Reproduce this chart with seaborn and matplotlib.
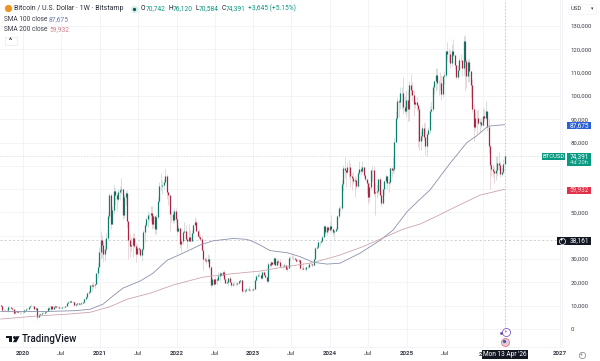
import matplotlib
matplotlib.use("Agg")
import matplotlib.pyplot as plt
import matplotlib.dates as mdates
from matplotlib.lines import Line2D
from matplotlib.patches import Polygon, Rectangle
import seaborn as sns
import pandas as pd

# weekly candles in thousands of USD, one block per chart year
first_open = 10.3

close_2019 = [10.0, 8.05, 7.9, 8.3, 8.2, 9.5, 9.2, 9.0, 8.5, 7.0, 7.4, 7.5, 7.1, 7.15, 7.3]
high_2019 = [10.4, 10.3, 8.4, 8.5, 8.4, 10.4, 9.9, 9.5, 9.3, 8.6, 7.9, 7.7, 7.5, 7.5, 7.6]
low_2019 = [9.6, 7.8, 7.7, 7.8, 7.8, 7.3, 8.9, 8.7, 8.3, 6.5, 6.9, 7.2, 7.0, 6.4, 7.0]

close_2020 = [7.4, 8.2, 8.7, 8.6, 9.3, 9.9, 9.9, 9.7, 8.5, 8.9, 5.2, 5.8, 6.2,
              6.8, 6.9, 7.1, 7.5, 8.9, 8.7, 9.7, 8.7, 9.4, 9.7, 9.3, 9.3, 9.0,
              9.1, 9.3, 9.2, 9.9, 11.1, 11.6, 11.9, 11.6, 11.7, 10.2, 10.6, 11.1, 10.7,
              10.7, 11.3, 11.4, 13.0, 13.8, 15.5, 16.0, 18.7, 18.2, 19.0, 19.2, 23.8, 26.4]
high_2020 = [7.6, 8.5, 9.0, 8.8, 9.6, 10.2, 10.5, 10.2, 9.7, 9.2, 9.2, 7.0, 6.9,
             7.3, 7.5, 7.3, 7.8, 9.5, 10.0, 9.9, 9.9, 9.7, 10.4, 9.9, 9.6, 9.7,
             9.3, 9.5, 9.4, 9.9, 11.4, 11.9, 12.1, 12.4, 11.8, 12.1, 10.7, 11.2, 11.2,
             10.9, 11.5, 11.7, 13.2, 14.1, 15.9, 16.5, 18.9, 19.5, 19.9, 19.4, 23.8, 28.4]
low_2020 = [6.9, 7.3, 8.1, 8.3, 8.3, 9.1, 9.7, 9.3, 8.5, 8.0, 3.9, 4.9, 5.9,
            6.2, 6.6, 6.5, 6.8, 7.5, 8.0, 8.2, 8.8, 8.7, 9.4, 9.2, 8.9, 8.9,
            8.9, 9.0, 9.1, 9.0, 9.8, 10.9, 11.2, 11.4, 11.1, 9.9, 9.9, 10.2, 10.1,
            10.4, 10.5, 11.1, 11.3, 12.8, 13.2, 14.8, 15.8, 16.3, 17.6, 17.6, 19.2, 22.0]

close_2021 = [33.0, 38.2, 36.0, 32.1, 34.3, 39.2, 48.6, 57.4, 45.2, 50.9, 59.0, 57.4, 55.8,
              58.8, 59.8, 60.0, 49.0, 56.6, 58.2, 46.4, 38.0, 35.7, 35.8, 39.0, 35.5, 32.2,
              34.7, 34.2, 31.5, 34.2, 41.5, 44.6, 47.0, 48.9, 48.8, 49.9, 45.0, 48.3, 42.7,
              48.2, 54.9, 61.5, 61.3, 61.8, 63.2, 65.5, 58.6, 57.3, 49.3, 49.3, 46.7, 50.8]
high_2021 = [35.0, 42.0, 40.1, 37.9, 38.6, 41.0, 49.7, 58.4, 58.4, 52.6, 61.7, 60.5, 58.4,
             60.1, 61.3, 64.8, 57.5, 57.9, 59.4, 59.5, 45.8, 40.9, 39.4, 41.3, 41.3, 36.7,
             36.6, 35.1, 34.6, 34.8, 42.6, 45.3, 48.1, 50.5, 49.9, 52.9, 52.9, 48.8, 45.0,
             49.2, 56.5, 62.9, 67.0, 63.7, 64.3, 69.0, 66.3, 59.4, 57.0, 50.8, 50.6, 51.9]
low_2021 = [27.7, 29.9, 30.4, 28.8, 29.2, 33.4, 38.0, 47.0, 43.0, 44.9, 49.3, 53.3, 50.4,
            55.0, 55.4, 58.0, 47.0, 47.4, 53.0, 43.8, 30.0, 31.0, 33.4, 31.0, 34.7, 28.8,
            32.7, 32.1, 31.0, 29.3, 34.0, 37.5, 43.7, 43.9, 46.4, 46.5, 42.8, 43.4, 40.7,
            40.8, 47.1, 53.9, 59.7, 58.0, 60.0, 62.8, 55.6, 53.3, 42.0, 45.7, 45.5, 45.6]

close_2022 = [47.3, 41.9, 43.1, 36.3, 37.9, 41.4, 42.2, 38.4, 37.7, 39.4, 37.8, 41.3, 44.5,
              45.8, 42.2, 39.7, 39.4, 38.5, 34.0, 30.1, 29.4, 29.0, 29.9, 26.6, 18.9, 21.5,
              19.3, 21.6, 20.8, 22.5, 23.8, 23.2, 24.4, 21.5, 19.6, 20.0, 21.8, 20.1, 18.9,
              19.3, 19.4, 19.3, 19.6, 20.6, 20.9, 16.3, 16.3, 16.5, 17.1, 17.1, 16.8, 16.8]
high_2022 = [51.9, 47.5, 44.4, 43.5, 38.9, 42.0, 45.8, 44.7, 40.0, 45.2, 42.5, 42.4, 45.0,
             48.2, 47.0, 42.4, 42.9, 40.8, 39.8, 34.2, 30.7, 30.7, 32.2, 31.7, 26.9, 21.8,
             21.5, 22.4, 21.9, 24.2, 24.6, 23.6, 25.0, 25.2, 21.8, 20.5, 21.8, 22.7, 19.7,
             20.2, 20.4, 19.9, 19.7, 21.0, 21.0, 21.0, 17.0, 16.8, 17.4, 17.4, 18.4, 17.0]
low_2022 = [45.7, 40.5, 41.7, 34.8, 33.0, 36.6, 41.0, 38.0, 34.4, 37.6, 37.6, 37.6, 40.6,
            44.6, 42.2, 39.6, 38.5, 37.7, 33.7, 25.4, 28.7, 28.0, 28.3, 25.3, 17.6, 19.6,
            18.6, 19.3, 18.9, 20.8, 20.7, 22.7, 22.8, 20.8, 19.5, 19.5, 18.5, 19.9, 18.1,
            18.5, 18.9, 18.2, 18.7, 19.2, 19.6, 15.5, 15.9, 15.5, 16.0, 16.7, 16.3, 16.4]

close_2023 = [16.6, 16.9, 20.9, 22.7, 23.1, 23.3, 21.8, 24.3, 23.2, 22.3, 20.5, 27.9, 27.5,
              28.5, 27.9, 30.3, 27.6, 29.2, 28.9, 26.8, 27.1, 26.8, 27.2, 25.8, 26.3, 30.5,
              30.5, 30.3, 30.3, 29.8, 29.2, 29.0, 29.4, 26.1, 26.0, 25.9, 25.8, 26.5, 26.6,
              28.0, 27.9, 27.2, 30.0, 34.5, 35.0, 37.1, 37.4, 37.8, 39.5, 44.0, 41.4, 43.7]
high_2023 = [17.0, 17.4, 21.4, 23.3, 23.9, 24.2, 23.4, 25.2, 25.0, 23.9, 22.6, 28.8, 28.9,
             29.2, 28.8, 30.9, 30.4, 30.0, 29.8, 29.8, 27.5, 27.5, 28.4, 27.3, 26.8, 31.4,
             31.4, 31.5, 31.8, 30.4, 29.7, 29.4, 30.2, 29.7, 26.8, 28.1, 26.4, 26.9, 27.4,
             28.6, 28.5, 28.0, 30.4, 35.2, 35.9, 37.9, 37.9, 38.4, 40.2, 44.7, 44.4, 44.3]
low_2023 = [16.3, 16.5, 16.9, 20.4, 22.3, 22.7, 21.4, 21.5, 23.1, 21.9, 19.6, 20.2, 26.6,
            26.6, 27.2, 27.8, 27.1, 26.9, 27.7, 26.1, 26.5, 25.9, 26.5, 25.4, 24.8, 26.2,
            29.5, 29.9, 29.7, 29.5, 28.9, 28.6, 28.7, 25.2, 25.4, 25.3, 25.4, 24.9, 26.0,
            26.0, 27.2, 26.5, 26.9, 29.9, 34.1, 34.5, 35.6, 36.7, 37.5, 39.9, 40.2, 40.5]

close_2024 = [42.3, 44.0, 42.8, 41.6, 42.1, 43.0, 48.3, 52.1, 51.7, 62.4, 68.9, 68.4, 67.2,
              69.6, 69.4, 65.7, 64.9, 63.4, 64.0, 61.5, 66.9, 68.5, 67.7, 69.6, 66.2, 64.3,
              62.7, 56.7, 60.8, 68.2, 68.3, 58.2, 58.7, 59.0, 64.2, 57.3, 54.2, 60.0, 63.4,
              65.6, 62.8, 62.9, 69.0, 68.0, 68.8, 80.4, 90.5, 97.9, 97.2, 101.2, 101.4, 95.2]
high_2024 = [43.8, 45.9, 48.9, 43.4, 42.9, 43.8, 48.9, 52.9, 52.9, 63.9, 70.2, 73.8, 68.2,
             71.7, 72.7, 71.2, 66.9, 67.2, 65.5, 65.0, 67.6, 71.9, 70.0, 71.9, 69.6, 66.6,
             63.3, 63.0, 62.8, 68.3, 69.9, 70.0, 62.7, 61.8, 64.9, 65.0, 59.0, 60.6, 64.1,
             66.5, 65.6, 64.4, 69.4, 69.5, 73.6, 81.8, 93.4, 99.7, 98.5, 103.9, 104.0, 108.3]
low_2024 = [41.5, 42.1, 41.5, 40.3, 38.6, 41.9, 42.5, 47.7, 50.6, 50.9, 59.2, 64.7, 60.8,
            66.3, 64.5, 60.7, 59.7, 62.4, 56.6, 60.2, 60.8, 66.3, 66.6, 67.1, 65.2, 63.4,
            58.5, 53.5, 54.3, 59.8, 63.4, 57.2, 49.0, 56.1, 57.8, 57.2, 52.6, 53.6, 57.6,
            62.7, 59.9, 58.9, 62.1, 65.4, 66.7, 67.5, 80.2, 89.5, 90.8, 94.5, 94.2, 92.2]

close_2025 = [93.7, 98.4, 94.5, 104.5, 102.6, 100.6, 96.5, 97.5, 96.3, 94.2, 80.7, 82.6, 86.1,
              82.4, 78.4, 83.7, 85.2, 93.7, 94.3, 104.0, 106.4, 109.0, 105.6, 105.7, 105.5, 100.9,
              108.4, 109.2, 119.1, 117.9, 118.0, 114.2, 119.3, 117.4, 113.5, 108.3, 111.1, 115.3, 115.3,
              112.2, 123.5, 115.1, 108.6, 114.5, 110.6, 104.7, 94.2, 86.8, 90.4, 90.4, 88.2, 88.6]
high_2025 = [99.9, 102.6, 102.7, 106.4, 109.6, 106.0, 102.5, 98.8, 99.5, 96.5, 95.0, 84.9, 87.4,
             88.8, 88.5, 84.2, 86.5, 95.7, 97.4, 104.5, 106.7, 111.9, 111.9, 106.8, 110.3, 108.9,
             108.7, 110.6, 119.5, 123.2, 120.2, 119.8, 122.3, 124.5, 117.4, 113.4, 113.3, 116.7, 117.9,
             114.8, 125.7, 126.2, 115.9, 116.0, 116.4, 107.3, 107.2, 96.6, 93.0, 94.0, 94.4, 90.4]
low_2025 = [92.5, 91.2, 89.3, 89.3, 100.2, 97.8, 91.2, 94.9, 93.4, 78.2, 76.6, 76.6, 81.0,
            81.2, 74.6, 74.4, 83.2, 84.0, 92.9, 93.4, 100.7, 102.0, 103.1, 100.4, 102.7, 98.2,
            99.7, 105.1, 107.5, 115.6, 114.7, 112.0, 112.7, 116.8, 111.7, 107.3, 107.3, 110.8, 114.8,
            108.7, 109.0, 102.0, 103.5, 106.1, 106.2, 99.0, 93.0, 80.6, 85.3, 83.8, 87.7, 84.4]

close_2026 = [87.7, 91.4, 90.5, 93.6, 86.5, 78.7, 70.3, 68.8, 67.7, 67.0, 68.2, 71.2, 70.5, 66.5, 67.5, 70.7, 74.391]
high_2026 = [90.5, 94.8, 94.4, 97.9, 91.0, 90.4, 79.4, 72.0, 70.9, 70.0, 74.0, 74.4, 76.0, 71.9, 69.5, 73.0, 76.12]
low_2026 = [86.5, 87.0, 89.3, 89.9, 85.0, 75.7, 60.0, 65.8, 65.0, 62.5, 63.9, 65.5, 68.0, 65.0, 65.5, 66.8, 70.584]

# moving averages
sma100_dates = ["2019-09-16", "2020-01-01", "2020-05-09", "2020-09-05", "2020-11-15", "2021-01-16", "2021-03-05",
                "2021-04-21", "2021-07-11", "2021-09-11", "2021-11-18", "2022-02-01", "2022-04-23", "2022-06-24",
                "2022-09-27", "2022-11-23", "2022-12-17", "2023-02-03", "2023-03-22", "2023-06-11", "2023-08-12",
                "2023-10-13", "2023-12-19", "2024-02-19", "2024-05-24", "2024-08-27", "2024-10-28", "2025-01-03",
                "2025-03-06", "2025-04-22", "2025-07-26", "2025-10-15", "2025-12-02", "2026-01-23", "2026-04-13"]
sma100_values = [7.4, 7.4, 7.5, 7.8, 8.4, 10.6, 14.2, 17.5, 20.5, 23.9, 29.5, 32.5, 36.0, 37.8, 38.8, 38.5, 38.0,
                 36.0, 33.6, 32.7, 31.0, 28.6, 27.8, 28.2, 32.5, 38.0, 42.4, 50.3, 55.7, 59.6, 71.0, 80.0, 83.0,
                 87.0, 87.675]
sma200_dates = ["2019-09-16", "2020-01-01", "2020-02-17", "2020-07-29", "2020-11-15", "2021-02-18", "2021-05-10",
                "2021-08-28", "2021-12-15", "2022-05-07", "2022-09-27", "2023-02-03", "2023-05-23", "2023-10-13",
                "2024-02-19", "2024-06-07", "2024-09-10", "2024-12-15", "2025-03-06", "2025-05-16", "2025-08-09",
                "2025-12-16", "2026-04-13"]
sma200_values = [4.2, 5.0, 5.4, 6.3, 7.1, 9.5, 12.7, 15.3, 18.8, 22.2, 23.7, 24.8, 26.5, 28.4, 31.7, 35.3, 39.0,
                 42.8, 45.0, 48.0, 51.8, 57.4, 59.932]

price_ticks = list(range(0, 140000, 10000))
hidden_prices = [40000, 60000, 70000]  # sit under the price tags
time_ticks = ["2020-01-01", "2020-07-01", "2021-01-01", "2021-07-01", "2022-01-01", "2022-07-01", "2023-01-01",
              "2023-07-01", "2024-01-01", "2024-07-01", "2025-01-01", "2025-07-01", "2026-01-01", "2026-07-01",
              "2027-01-01"]
time_labels = ["2020", "Jul", "2021", "Jul", "2022", "Jul", "2023", "Jul", "2024", "Jul", "2025", "Jul", "",
               "", "2027"]

blocks = [("2019-09-16", close_2019, high_2019, low_2019),
          ("2019-12-30", close_2020, high_2020, low_2020),
          ("2020-12-28", close_2021, high_2021, low_2021),
          ("2021-12-27", close_2022, high_2022, low_2022),
          ("2022-12-26", close_2023, high_2023, low_2023),
          ("2023-12-25", close_2024, high_2024, low_2024),
          ("2024-12-23", close_2025, high_2025, low_2025),
          ("2025-12-22", close_2026, high_2026, low_2026)]

frames = []
for start, c, h, l in blocks:
    frames.append(pd.DataFrame({"date": pd.date_range(start, periods=len(c), freq="7D"),
                                "close": c, "high": h, "low": l}))
df = pd.concat(frames, ignore_index=True)
df[["close", "high", "low"]] *= 1000
df["open"] = df["close"].shift(1).fillna(first_open * 1000)
up = df["close"] >= df["open"]

sma100 = pd.DataFrame({"date": pd.to_datetime(sma100_dates), "value": [v * 1000 for v in sma100_values]})
sma200 = pd.DataFrame({"date": pd.to_datetime(sma200_dates), "value": [v * 1000 for v in sma200_values]})

sns.set_theme(style="white")
plt.rcParams["font.family"] = ["Roboto", "DejaVu Sans"]

GREEN = "#089981"
RED = "#e0304a"
BLUE = "#2a5fd6"
INK = "#131722"
GRID = "#f1f3f7"

W, H = 600, 361
fig = plt.figure(figsize=(W / 100, H / 100), dpi=100, facecolor="white")
ax = fig.add_axes([0, 1 - 347 / H, 562 / W, 347 / H])

ax.grid(True, color=GRID, linewidth=0.6)
ax.set_axisbelow(True)

# wicks first, bodies on top
ax.vlines(df["date"][up], df["low"][up], df["high"][up], color="#c9d6d4", linewidth=0.55, zorder=2)
ax.vlines(df["date"][~up], df["low"][~up], df["high"][~up], color="#e6cdd1", linewidth=0.55, zorder=2)
ax.vlines(df["date"][up], df["open"][up], df["close"][up], color="#0a7d6b", linewidth=0.9, zorder=3)
ax.vlines(df["date"][~up], df["open"][~up], df["close"][~up], color="#a92440", linewidth=0.9, zorder=3)

sns.lineplot(data=sma100, x="date", y="value", color="#8b90aa", linewidth=0.6, ax=ax, zorder=4)
sns.lineplot(data=sma200, x="date", y="value", color="#cba5ad", linewidth=0.6, ax=ax, zorder=4)

# last price line and crosshair
ax.axhline(74391, color="#d3d5dc", linewidth=0.5, linestyle=(0, (2, 2)), zorder=1)
ax.axhline(38161, color="#bcbec6", linewidth=0.5, linestyle=(0, (3, 3)), zorder=1)
ax.vlines(pd.Timestamp("2026-04-13"), 1000, 141000, color="#bcbec6", linewidth=0.6,
          linestyle=(0, (2, 2)), zorder=1)

ax.set_xlim(pd.Timestamp("2019-09-13"), pd.Timestamp("2027-01-11"))
ax.set_ylim(-7800, 141200)
ax.set_xlabel("")
ax.set_ylabel("")

ax.yaxis.tick_right()
ax.set_yticks(price_ticks)
ax.set_yticklabels(["" if t in hidden_prices else f"{t:,}" for t in price_ticks])
ax.tick_params(axis="y", length=0, pad=6.2, labelsize=4.3, labelcolor="#3b3e48")
ax.set_xticks(mdates.date2num(pd.to_datetime(time_ticks)))
ax.set_xticklabels(time_labels)
ax.tick_params(axis="x", length=0, pad=3, labelsize=4.5, labelcolor="#3b3e48")
for lab in ax.get_xticklabels():
    if lab.get_text() != "Jul":
        lab.set_fontweight("bold")
for side in ["top", "left"]:
    ax.spines[side].set_visible(False)
for side in ["right", "bottom"]:
    ax.spines[side].set_color("#eceef3")
    ax.spines[side].set_linewidth(0.5)


def label(x, y, s, color=INK, size=4.8, ha="left", weight="normal", family=None):
    fig.text(x / W, 1 - y / H, s, color=color, fontsize=size, ha=ha, va="center",
             fontweight=weight, family=family, zorder=8)


def box(x0, y0, x1, y1, color, edge="none"):
    fig.add_artist(Rectangle((x0 / W, 1 - y1 / H), (x1 - x0) / W, (y1 - y0) / H, facecolor=color,
                             edgecolor=edge, linewidth=0.4, transform=fig.transFigure, zorder=6))


def dot(x, y, size, face, edge="none"):
    fig.add_artist(Line2D([x / W], [1 - y / H], marker="o", markersize=size, markerfacecolor=face,
                          markeredgecolor=edge, markeredgewidth=0.5, transform=fig.transFigure, zorder=7))


# header
dot(8, 8, 5.2, "#f0921e")
label(14, 8.5, "Bitcoin / U.S. Dollar · 1W · Bitstamp", size=5.0, color="#2a2e39")
dot(133.5, 8.5, 5.5, "#d9f2ee")
dot(133.5, 8.5, 2.4, "#0b5d4f")
ohlc = [(141, "O", INK), (146, "70,742", GREEN), (168, "H", INK), (172.5, "76,120", GREEN),
        (195, "L", INK), (199, "70,584", GREEN), (221.5, "C", INK), (226, "74,391", GREEN),
        (248, "+3,645 (+5.15%)", GREEN)]
for x, s, c in ohlc:
    label(x, 8.5, s, color=c, size=4.8)
label(4.5, 19.5, "SMA 100 close", color="#3b3e48", size=4.7)
label(49, 19.5, "87,675", color="#6f7cb0", size=4.8)
label(4.5, 29.5, "SMA 200 close", color="#3b3e48", size=4.7)
label(49, 29.5, "59,932", color="#cf7f8c", size=4.8)
box(4.5, 36.5, 17, 45, "white", edge="#e0e3eb")
label(10.7, 41, "^", size=5, ha="center", weight="bold")
box(568, 3.5, 596, 14, "white", edge="#eef0f4")
label(570.7, 8.5, "USD", color="#3b3e48", size=4.3)
label(592, 8.5, "▾", color="#3b3e48", size=3.5, ha="center")

# price tags
box(542, 153, 565, 159.5, GREEN)
label(553.5, 156.3, "BTCUSD", color="white", size=4.2, ha="center")
box(567, 153, 591, 166.5, GREEN)
label(579, 156.3, "74,391", color="white", size=4.7, ha="center")
label(579, 163, "4d 20h", color="#c8ece5", size=4.2, ha="center")
box(567, 122, 591, 129, BLUE)
label(579, 125.6, "87,675", color="white", size=4.7, ha="center")
box(567, 186.5, 591, 193.5, RED)
label(579, 190.1, "59,932", color="#ffd9de", size=4.7, ha="center")
box(557, 236.7, 591, 245, INK)
label(579, 240.8, "38,161", color="white", size=4.7, ha="center")
dot(561.5, 240.8, 4.4, INK, "white")
label(561.5, 240.6, "+", color="white", size=4.2, ha="center")

# time tag and markers at the crosshair
label(479, 354.6, "2", size=4.5, weight="bold", color="#3b3e48")
box(482, 350, 528, 359, INK)
label(505, 354.6, "Mon 13 Apr '26", color="white", size=4.7, ha="center")
dot(505.7, 331.5, 5.8, "white", "#6a3fb5")
label(505.7, 331.5, "⚡", color="#6a3fb5", size=3.6, ha="center", family="DejaVu Sans")
dot(501, 333, 2, "#6a3fb5")
dot(505.2, 342, 5.8, "#e9c9d2", "#e2667a")
dot(504.3, 341, 2.4, "#3d5fb8")
dot(581.5, 355, 4.6, "white", "#7d808a")
label(581.5, 354.8, "+", color="#7d808a", size=3.6, ha="center")

# TradingView logo
box(6, 336.2, 12.4, 338.4, INK)
box(9.2, 336.2, 12.4, 342.2, INK)
dot(14.2, 337.3, 2.1, INK)
fig.add_artist(Polygon([(16.2 / W, 1 - 336.2 / H), (19.6 / W, 1 - 336.2 / H), (16.4 / W, 1 - 342.2 / H),
                        (12.9 / W, 1 - 342.2 / H)], closed=True, facecolor=INK, edgecolor="none",
                       transform=fig.transFigure, zorder=6))
label(22, 339.2, "TradingView", size=7.0, weight="medium", color=INK)

fig.savefig("out.png", dpi=100)
plt.close(fig)
